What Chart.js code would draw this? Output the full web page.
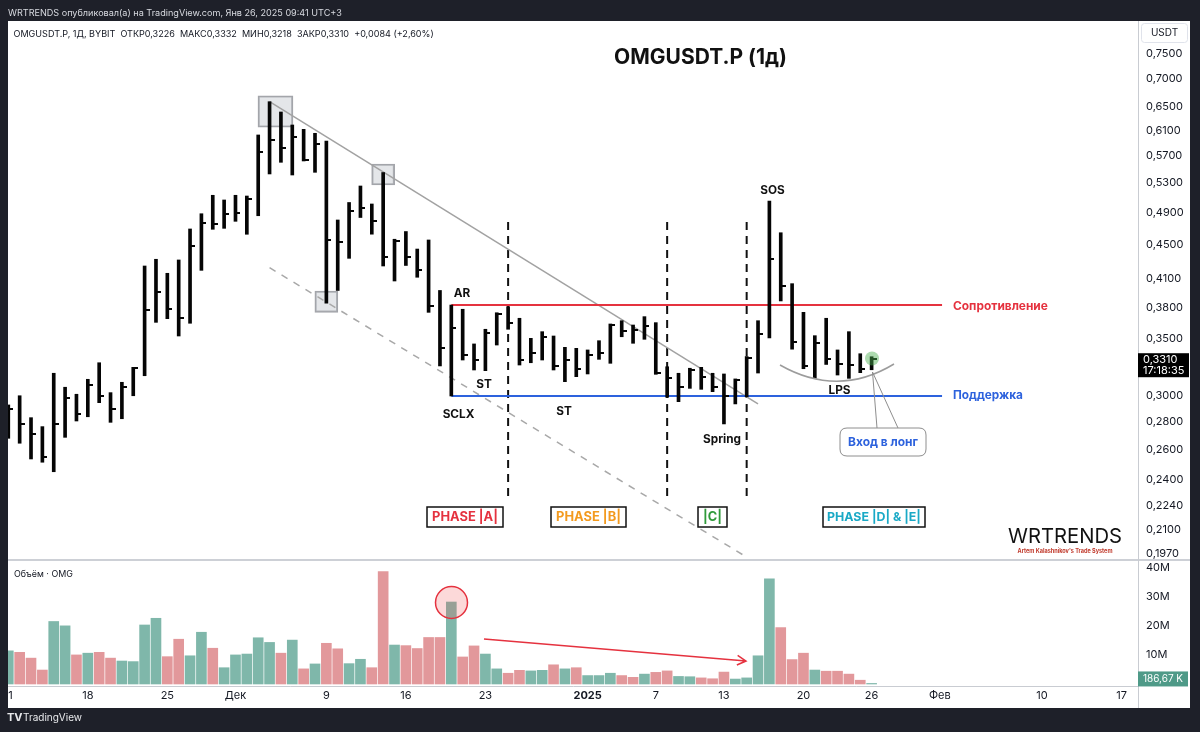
<!DOCTYPE html>
<html><head><meta charset="utf-8">
<script src="https://cdn.jsdelivr.net/npm/chart.js@4.4.1/dist/chart.umd.min.js"></script>
<style>html,body{margin:0;padding:0;background:#1e2029;}canvas{display:block;}</style>
</head><body>
<canvas id="c" width="1200" height="732"></canvas>
<script>
// ---------- DATA ----------
const dates = [
 '2024-11-11','2024-11-12','2024-11-13','2024-11-14','2024-11-15','2024-11-16','2024-11-17','2024-11-18','2024-11-19','2024-11-20',
 '2024-11-21','2024-11-22','2024-11-23','2024-11-24','2024-11-25','2024-11-26','2024-11-27','2024-11-28','2024-11-29','2024-11-30',
 '2024-12-01','2024-12-02','2024-12-03','2024-12-04','2024-12-05','2024-12-06','2024-12-07','2024-12-08','2024-12-09','2024-12-10',
 '2024-12-11','2024-12-12','2024-12-13','2024-12-14','2024-12-15','2024-12-16','2024-12-17','2024-12-18','2024-12-19','2024-12-20',
 '2024-12-21','2024-12-22','2024-12-23','2024-12-24','2024-12-25','2024-12-26','2024-12-27','2024-12-28','2024-12-29','2024-12-30','2024-12-31',
 '2025-01-01','2025-01-02','2025-01-03','2025-01-04','2025-01-05','2025-01-06','2025-01-07','2025-01-08','2025-01-09','2025-01-10',
 '2025-01-11','2025-01-12','2025-01-13','2025-01-14','2025-01-15','2025-01-16','2025-01-17','2025-01-18','2025-01-19','2025-01-20',
 '2025-01-21','2025-01-22','2025-01-23','2025-01-24','2025-01-25','2025-01-26'
];
const highs = [
 0.2929,0.3002,0.2831,0.2764,0.3188,0.3071,0.3014,0.3137,0.3279,0.3027,0.3112,0.3239,0.4247,0.4324,0.4165,0.4316,0.4689,0.4884,0.5131,0.5067,
 0.5131,0.5121,0.6029,0.6590,0.6411,0.6192,0.6121,0.6056,0.5933,0.4803,0.5033,0.5260,0.5013,0.5453,0.4562,0.4657,0.4444,0.4553,0.3978,0.3826,
 0.3783,0.3448,0.3586,0.3748,0.3809,0.3693,0.3500,0.3563,0.3522,0.3417,0.3408,
 0.3393,0.3478,0.3637,0.3669,0.3627,0.3709,0.3650,0.3244,0.3188,0.3231,0.3239,0.3188,0.3182,0.3140,0.3334,0.3669,0.5053,0.4642,0.4051,0.3752,
 0.3525,0.3693,0.3393,0.3563,0.3359,0.3332
];
const lows = [
 0.2679,0.2644,0.2535,0.2513,0.2450,0.2686,0.2806,0.2838,0.2947,0.2796,0.2823,0.3002,0.3167,0.3653,0.3689,0.3522,0.3644,0.4198,0.4685,0.4697,
 0.4786,0.4623,0.4858,0.5432,0.5604,0.5417,0.5624,0.5456,0.3844,0.3978,0.4335,0.4835,0.4624,0.4247,0.4080,0.4253,0.4121,0.3752,0.3251,0.3000,
 0.3303,0.3216,0.3210,0.3438,0.3586,0.3259,0.3279,0.3303,0.3216,0.3117,0.3159,
 0.3182,0.3309,0.3274,0.3515,0.3454,0.3491,0.3179,0.2990,0.2955,0.3062,0.3054,0.3035,0.2784,0.2937,0.2994,0.3190,0.3503,0.3868,0.3400,0.3227,
 0.3145,0.3264,0.3173,0.3145,0.3193,0.3218
];
const closes = [
 0.2895,0.2784,0.2708,0.2546,0.2784,0.2986,0.2857,0.3090,0.3000,0.2895,0.3071,0.3231,0.3776,0.3959,0.3783,0.3699,0.4480,0.4768,0.4752,0.4877,
 0.4897,0.5076,0.5765,0.5948,0.5827,0.6001,0.5639,0.5885,0.4553,0.4525,0.4916,0.4959,0.4786,0.4356,0.4541,0.4350,0.4205,0.3816,0.3411,0.3595,
 0.3348,0.3303,0.3548,0.3735,0.3644,0.3303,0.3368,0.3510,0.3251,0.3303,0.3222,
 0.3348,0.3368,0.3627,0.3572,0.3579,0.3618,0.3188,0.3145,0.3076,0.3216,0.3159,0.3076,0.3000,0.3131,0.3318,0.3541,0.4324,0.4026,0.3466,0.3251,
 0.3457,0.3310,0.3268,0.3259,0.3226,0.3310
];
// volume in millions
const volumes = [
 11.4,10.9,8.9,4.8,21.5,20.0,10.0,10.6,10.9,8.9,7.9,7.7,20.3,22.6,9.4,15.4,9.7,17.8,12.3,5.6,
 10.0,10.3,15.9,14.3,10.6,15.1,5.2,6.9,14.0,12.1,7.0,8.5,5.6,38.7,13.4,13.2,12.2,16.0,16.0,28.2,
 9.3,13.1,10.3,5.2,3.7,4.7,4.5,4.7,6.6,5.2,5.6,
 2.9,2.9,3.7,2.9,2.3,3.4,4.0,4.5,2.6,2.5,2.1,1.8,4.1,1.7,2.1,9.7,36.2,19.4,8.4,10.6,
 4.8,4.4,4.4,3.4,1.3,0.187
];
// 1 = up volume bar, 0 = down volume bar
const volDir = [
 1,0,0,0,1,1,0,1,0,0,1,1,1,1,0,0,1,1,0,1,
 1,1,1,1,0,1,0,1,0,0,1,1,0,0,1,0,0,0,0,1,0,0,1,1,0,0,1,1,0,1,0,
 1,1,1,0,0,1,0,0,1,1,0,0,0,1,1,1,1,0,0,0,1,0,0,0,0,1
];
const tickDates  = ['2024-11-11','2024-11-18','2024-11-25','2024-12-01','2024-12-09','2024-12-16','2024-12-23','2025-01-01','2025-01-07','2025-01-13','2025-01-20','2025-01-26','2025-02-01','2025-02-10','2025-02-17'];
const tickLabels = ['11','18','25','Дек','9','16','23','2025','7','13','20','26','Фев','10','17'];
const priceTicks = [0.75,0.70,0.65,0.61,0.57,0.53,0.49,0.45,0.41,0.38,0.35,0.30,0.28,0.26,0.24,0.224,0.21,0.197];
const volumeTicks = [10,20,30,40];
const resistance = 0.3826;
const support = 0.3000;

// ---------- STYLE ----------
const DARK = '#1e2029';
const FONT = 'Inter, "Noto Sans", sans-serif';
const TXT = '#131722';
const AXIS = '#c9ccd2';
const BAR = '#050505';
const UP = '#7fb7aa';
const DOWN = '#e2989b';

const day = d => Math.round((Date.parse(d) - Date.parse(dates[0])) / 864e5);
const X = dates.map(day);
const jan1 = day('2025-01-01');

const tickImg = (() => {
  const cv = document.createElement('canvas'); cv.width = 10; cv.height = 2;
  const g = cv.getContext('2d'); g.fillStyle = BAR; g.fillRect(5, 0, 5, 2); return cv;
})();

const lineDs = (pts, color, w, dash) => ({
  type: 'line', data: pts, borderColor: color, borderWidth: w, borderDash: dash || [],
  pointRadius: 0, yAxisID: 'y', tension: 0, fill: false, order: 3
});
const boxDs = (x, lo, hi, thick) => ({
  type: 'bar', data: [{x, y: [lo, hi]}], yAxisID: 'y', grouped: false, barThickness: thick,
  backgroundColor: 'rgba(196,199,206,0.45)', borderColor: '#a3a5aa', borderWidth: 1.5, borderSkipped: false, order: 6
});

const iRes = day('2024-12-20');
const datasets = [
  { type: 'scatter', data: X.map((x, i) => ({x, y: closes[i]})), yAxisID: 'y', pointStyle: tickImg, pointRadius: 3, order: 0 },
  { type: 'bar', data: X.map((x, i) => ({x, y: [lows[i], highs[i]]})), yAxisID: 'y', backgroundColor: BAR, barThickness: 3, grouped: false, order: 1 },
  { type: 'bar', data: X.map((x, i) => ({x, y: volumes[i] * 1e6})), yAxisID: 'yv', backgroundColor: volDir.map(d => d ? UP : DOWN), barThickness: 10, grouped: false, order: 2 },
  lineDs([{x: iRes, y: resistance}, {x: 82.2, y: resistance}], '#e5323f', 2),
  lineDs([{x: iRes, y: support}, {x: 82.2, y: support}], '#2d62dd', 2),
  lineDs([{x: day('2024-12-04'), y: highs[day('2024-12-04')]}, {x: day('2025-01-16'), y: 0.2937}], '#a2a2a2', 1.5),
  lineDs([{x: day('2024-12-04'), y: 0.4228}, {x: day('2025-01-15'), y: 0.195}], '#a8a8a8', 1.5, [7, 7]),
  lineDs([{x: day('2024-12-25'), y: 0.4777}, {x: day('2024-12-25'), y: 0.2290}], '#111', 2, [8, 6]),
  lineDs([{x: day('2025-01-08'), y: 0.4777}, {x: day('2025-01-08'), y: 0.2290}], '#111', 2, [8, 6]),
  lineDs([{x: day('2025-01-15'), y: 0.4777}, {x: day('2025-01-15'), y: 0.2290}], '#111', 2, [8, 6]),
  boxDs(23.52, 0.6154, 0.6696, 35),
  boxDs(day('2024-12-14'), 0.5274, 0.5579, 23),
  boxDs(day('2024-12-09'), 0.3752, 0.3972, 23)
];

function fitted(c, s, weight, w) {
  c.font = `${weight} 20px ${FONT}`;
  const sz = 20 * w / c.measureText(s).width;
  return `${weight} ${sz.toFixed(2)}px ${FONT}`;
}
function text(c, s, x, y, font, color, align) {
  c.font = font; c.fillStyle = color || TXT; c.textAlign = align || 'center'; c.textBaseline = 'middle';
  c.fillText(s, x, y);
}
function rrect(c, x, y, w, h, r) {
  c.beginPath();
  c.moveTo(x + r, y); c.lineTo(x + w - r, y); c.quadraticCurveTo(x + w, y, x + w, y + r);
  c.lineTo(x + w, y + h - r); c.quadraticCurveTo(x + w, y + h, x + w - r, y + h);
  c.lineTo(x + r, y + h); c.quadraticCurveTo(x, y + h, x, y + h - r);
  c.lineTo(x, y + r); c.quadraticCurveTo(x, y, x + r, y); c.closePath();
}

const decor = {
  id: 'decor',
  beforeDraw(chart) {
    const c = chart.ctx;
    c.save(); c.fillStyle = DARK; c.fillRect(0, 0, 1200, 732);
    c.fillStyle = '#ffffff'; c.fillRect(8, 21, 1182, 687); c.restore();
  },
  afterDraw(chart) {
    const c = chart.ctx, ys = chart.scales.y, yv = chart.scales.yv;
    c.save();
    c.strokeStyle = '#cdd0d6'; c.lineWidth = 2;
    c.beginPath(); c.moveTo(8, ys.bottom); c.lineTo(1190, ys.bottom); c.stroke();
    c.lineWidth = 1; c.strokeStyle = AXIS;
    c.beginPath(); c.moveTo(ys.left + 0.5, 21); c.lineTo(ys.left + 0.5, 708); c.stroke();

    const lf = fitted(c, 'Spring', 'bold', 38);
    [['AR', 462, 293], ['ST', 484, 384], ['SCLX', 458.5, 414], ['ST', 564, 411],
     ['Spring', 722, 439], ['SOS', 772.5, 190], ['LPS', 839.5, 390]].forEach(([s, x, y]) => text(c, s, x, y, lf, '#111'));
    text(c, 'Сопротивление', 953, 306.5, fitted(c, 'Сопротивление', 'bold', 95), '#e5323f', 'left');
    text(c, 'Поддержка', 953, 395.5, fitted(c, 'Поддержка', 'bold', 70), '#2d62dd', 'left');

    [['PHASE |A|', '#e5323f', 427, 503, 66], ['PHASE |B|', '#f39a1e', 551, 626, 65],
     ['|C|', '#2f9a3a', 698, 727, 19], ['PHASE |D| & |E|', '#1aa9c6', 823, 925, 94]].forEach(([s, col, x0, x1, w]) => {
      c.fillStyle = '#fff'; c.fillRect(x0, 507, x1 - x0, 20);
      c.strokeStyle = '#111'; c.lineWidth = 1.5; c.strokeRect(x0, 507, x1 - x0, 20);
      text(c, s, (x0 + x1) / 2, 517.5, fitted(c, s, 'bold', w), col);
    });

    c.strokeStyle = '#9c9c9c'; c.lineWidth = 1.5;
    c.beginPath(); c.moveTo(780, 365); c.quadraticCurveTo(838, 398, 894, 364); c.stroke();
    c.fillStyle = 'rgba(76,175,80,0.45)';
    c.beginPath(); c.arc(872, 358.5, 7, 0, Math.PI * 2); c.fill();
    c.strokeStyle = '#8e8e8e'; c.lineWidth = 1;
    c.beginPath(); c.moveTo(877, 428); c.lineTo(872.5, 372); c.lineTo(898, 428); c.stroke();
    rrect(c, 840, 428, 86, 28, 7); c.fillStyle = '#fff'; c.fill(); c.stroke();
    text(c, 'Вход в лонг', 883, 442.5, fitted(c, 'Вход в лонг', 'bold', 70), '#2d62dd');

    c.fillStyle = 'rgba(240,80,80,0.22)'; c.strokeStyle = '#e5323f'; c.lineWidth = 1.5;
    c.beginPath(); c.arc(451.5, 602.5, 16, 0, Math.PI * 2); c.fill(); c.stroke();
    const ax0 = 484, ay0 = 639, ax1 = 746, ay1 = 661, ang = Math.atan2(ay1 - ay0, ax1 - ax0);
    c.beginPath(); c.moveTo(ax0, ay0); c.lineTo(ax1, ay1);
    c.moveTo(ax1 - 10 * Math.cos(ang - 0.5), ay1 - 10 * Math.sin(ang - 0.5)); c.lineTo(ax1, ay1);
    c.lineTo(ax1 - 10 * Math.cos(ang + 0.5), ay1 - 10 * Math.sin(ang + 0.5)); c.stroke();

    text(c, 'WRTRENDS', 1065, 537, fitted(c, 'WRTRENDS', 'normal', 114), '#111');
    text(c, "Artem Kalashnikov's Trade System", 1065, 551, fitted(c, "Artem Kalashnikov's Trade System", 'bold', 95), '#c0392b');

    const leg = 'OMGUSDT.P, 1Д, BYBIT  ОТКР0,3226  МАКС0,3332  МИН0,3218  ЗАКР0,3310  +0,0084 (+2,60%)';
    text(c, leg, 13.5, 34, fitted(c, leg, 'normal', 421), TXT, 'left');
    text(c, 'OMGUSDT.P (1д)', 700.5, 58, fitted(c, 'OMGUSDT.P (1д)', 'bold', 173), '#111');
    text(c, 'Объём · OMG', 14, 574, fitted(c, 'Объём · OMG', 'normal', 59), TXT, 'left');

    rrect(c, 1141.5, 23.5, 46, 19, 3); c.fillStyle = '#fff'; c.fill(); c.strokeStyle = '#e0e3eb'; c.lineWidth = 1; c.stroke();
    text(c, 'USDT', 1164.5, 33, `10px ${FONT}`, TXT);
    const py = ys.getPixelForValue(closes[closes.length - 1]);
    c.fillStyle = '#000'; c.fillRect(1138, py - 6, 51, 24);
    text(c, '0,3310', 1143, py + 0.5, `11px ${FONT}`, '#fff', 'left');
    text(c, '17:18:35', 1143, py + 11, `11px ${FONT}`, '#fff', 'left');
    const vy = yv.getPixelForValue(volumes[volumes.length - 1] * 1e6);
    c.fillStyle = '#4f9a88'; c.fillRect(1138, vy - 12, 50, 15);
    text(c, '186,67 K', 1163, vy - 4.5, `10px ${FONT}`, '#fff');

    c.fillStyle = DARK;
    c.fillRect(0, 0, 1200, 21); c.fillRect(0, 0, 8, 732); c.fillRect(1190, 0, 10, 732); c.fillRect(0, 708, 1200, 24);
    const top = 'WRTRENDS опубликовал(а) на TradingView.com, Янв 26, 2025 09:41 UTC+3';
    text(c, top, 8, 13, fitted(c, top, 'normal', 334), '#d8dae0', 'left');
    text(c, 'TV', 7, 718, `bold 11px ${FONT}`, '#e8e9ec', 'left');
    text(c, 'TradingView', 23, 718, fitted(c, 'TradingView', 'normal', 59), '#e8e9ec', 'left');
    c.restore();
  }
};

new Chart(document.getElementById('c'), {
  type: 'bar',
  data: { datasets },
  plugins: [decor],
  options: {
    responsive: false, animation: false, devicePixelRatio: 1, events: [],
    layout: { padding: { left: 8, top: 21, right: 10, bottom: 24 } },
    plugins: { legend: { display: false }, tooltip: { enabled: false } },
    scales: {
      x: {
        type: 'linear', min: -0.026, max: 99.45, offset: false,
        grid: { display: false, drawTicks: false, offset: false }, border: { display: true, color: AXIS },
        ticks: {
          autoSkip: false, maxRotation: 0, padding: 3, color: TXT,
          font: ctx => ({ family: FONT, size: 11, weight: ctx.tick && ctx.tick.value === jan1 ? 'bold' : 'normal' }),
          callback: v => { const k = tickDates.findIndex(d => day(d) === v); return k < 0 ? '' : tickLabels[k]; }
        },
        afterBuildTicks: a => { a.ticks = tickDates.map(d => ({ value: day(d) })); },
        afterFit: a => { a.height = 22; }
      },
      y: {
        type: 'logarithmic', position: 'right', stack: 'pane', stackWeight: 539,
        min: 0.19349, max: 0.8177,
        grid: { display: false, drawTicks: false }, border: { display: true, color: AXIS },
        ticks: { autoSkip: false, padding: 8, color: TXT, font: { family: FONT, size: 11 },
          callback: v => v.toFixed(4).replace('.', ',') },
        afterBuildTicks: a => { a.ticks = priceTicks.map(v => ({ value: v })); },
        afterFit: a => { a.width = 52; }
      },
      yv: {
        type: 'linear', position: 'right', stack: 'pane', stackWeight: 126,
        min: -0.69e6, max: 42.65e6,
        grid: { display: false, drawTicks: false }, border: { display: true, color: AXIS },
        ticks: { autoSkip: false, padding: 8, color: TXT, font: { family: FONT, size: 11 },
          callback: v => (v / 1e6) + 'M' },
        afterBuildTicks: a => { a.ticks = volumeTicks.map(v => ({ value: v * 1e6 })); },
        afterFit: a => { a.width = 52; }
      }
    }
  }
});
</script>
</body></html>
